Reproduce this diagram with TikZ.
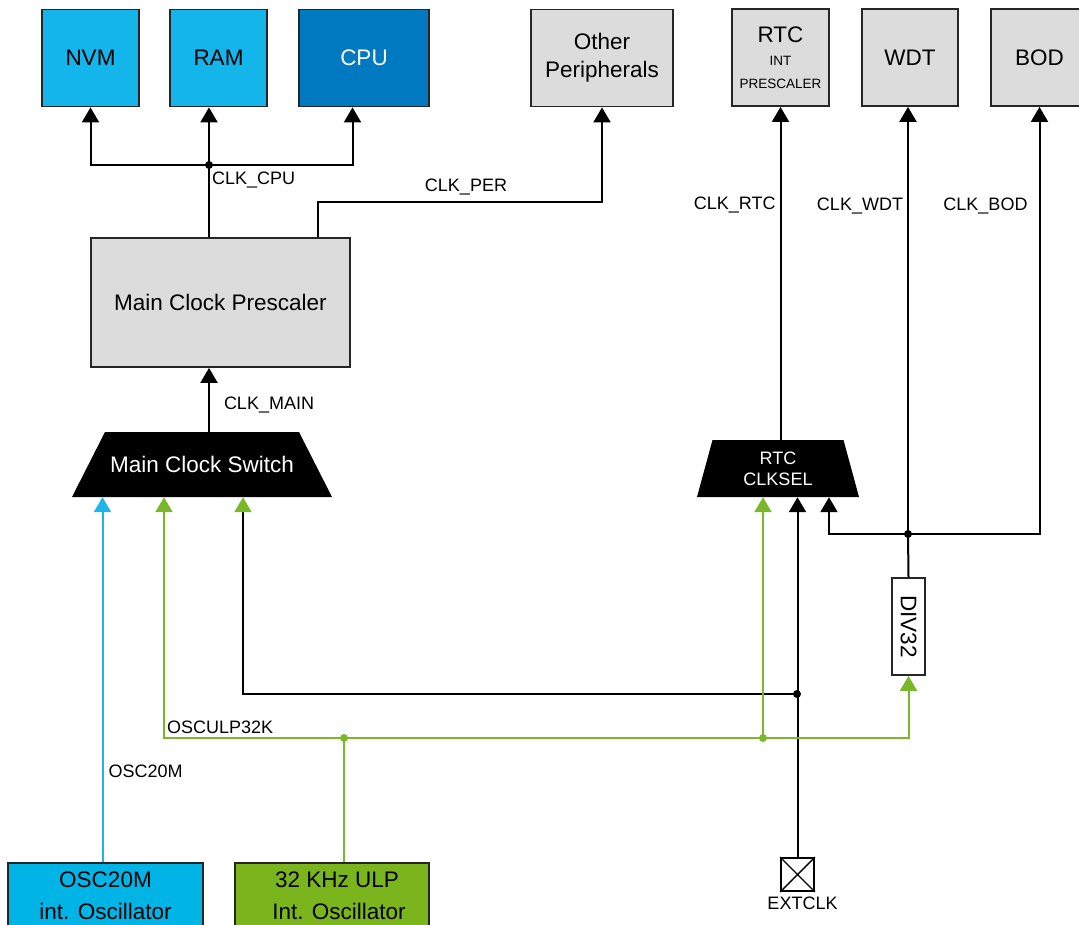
\documentclass[tikz,border=0pt]{standalone}
\usepackage{fontspec}
\setmainfont{Liberation Sans}
\usetikzlibrary{arrows.meta, positioning}
\definecolor{memblue}{HTML}{13B5EA}
\definecolor{cpublue}{HTML}{0079C1}
\definecolor{oscblue}{HTML}{00B4E6}
\definecolor{ulpgreen}{HTML}{7AB51D}
\definecolor{wiregreen}{HTML}{7AB82A}
\definecolor{wireblue}{HTML}{1CB4EA}
\definecolor{blockgray}{HTML}{DCDCDC}
\newcommand{\bigfont}{\fontsize{22.5}{28}\selectfont}
\newcommand{\lblfont}{\fontsize{18}{21}\selectfont}

\begin{document}
\begin{tikzpicture}[
        x=1pt, y=-1pt,
        >={Triangle[width=17pt,length=15pt]},
        wire/.style={line width=2pt},
        grn/.style={wire, draw=wiregreen},
        blu/.style={wire, draw=wireblue},
        gtip/.style={-{Triangle[width=17pt,length=15pt,color=wiregreen]}},
        blk/.style={draw=black!85, line width=1.8pt, minimum width=97pt, minimum height=97pt, inner sep=0pt, align=center, font=\bigfont, fill=blockgray},
        mem/.style={blk, fill=memblue},
        osc/.style={blk, minimum width=195pt, minimum height=66pt, font=\fontsize{22.5}{32}\selectfont},
        mux/.style={rectangle, inner sep=0pt, align=center, text=white,
            path picture={\fill[black] ([xshift=#1]path picture bounding box.north west) -- ([xshift=-#1]path picture bounding box.north east)
                -- (path picture bounding box.south east) -- (path picture bounding box.south west) -- cycle;}},
        lbl/.style={font=\lblfont, inner sep=1pt}
    ]
        \useasboundingbox (0,0) rectangle (1079,924);
        % --- Verbraucher oben ---
        \node[mem] (nvm) at (90.5,58) {NVM};
        \node[mem] (ram) at (218.5,58) {RAM};
        \node[mem, fill=cpublue, text=white, minimum width=130pt] (cpu) at (364,58) {CPU};
        \node[blk, minimum width=142pt] (peri) at (602,58) {Other\\Peripherals};
        \node[blk, font=\fontsize{13.5}{23}\selectfont] (rtc) at (780.5,57.5) {{\fontsize{22.5}{23}\selectfont RTC}\\INT\\PRESCALER};
        \node[blk, minimum width=96pt] (wdt) at (910,57.5) {WDT};
        \node[blk] (bod) at (1039.5,57.5) {BOD};
        % --- Vorteiler und Umschalter ---
        \node[blk, minimum width=259pt, minimum height=129pt] (pre) at (220.5,302.5) {Main Clock Prescaler};
        \node[mux=33pt, minimum width=260pt, minimum height=65pt, font=\bigfont] (sw) at (202,464.5) {Main Clock Switch};
        \node[mux=15.5pt, minimum width=162pt, minimum height=57pt, font=\lblfont] (rsel) at (778,468.5) {RTC\\CLKSEL};
        \node[blk, fill=white, minimum width=33pt, minimum height=97pt] (div) at (908.5,626.5) {\rotatebox{-90}{DIV32}};
        % --- Quellen unten ---
        \node[osc, fill=oscblue] (osc20) at (105.5,896) {OSC20M\\int. Oscillator};
        \node[osc, fill=ulpgreen, minimum width=194pt] (ulp) at (332,896) {\hspace{10pt}32 KHz ULP\\\hspace{14pt}Int. Oscillator};
        \node[draw, line width=1.8pt, minimum size=33pt, inner sep=0pt] (pad) at (797.5,874.5) {};
        \draw[line width=1.4pt] (pad.north west) -- (pad.south east) (pad.north east) -- (pad.south west);
        \node[lbl, below=4pt of pad, xshift=5pt] (extlbl) {EXTCLK};

        % --- Knoten ---
        \coordinate (jcpu) at (209,165);
        \coordinate (kper) at (318,202);
        \coordinate (jdiv) at (908,534);
        \coordinate (jext) at (797,694);
        \coordinate (gj) at (344,738);
        \coordinate (grtc) at (763,738);

        % --- Leitungen ---
        \draw[wire,->] (pre.north -| jcpu) -- (jcpu |- ram.south);
        \draw[wire,->] (jcpu) -| (nvm.south);
        \draw[wire,->] (jcpu) -| ([xshift=-11.5pt]cpu.south);
        \node[lbl, anchor=west] (lcpu) at (211,180) {CLK\_CPU};
        \draw[wire,->] (pre.north -| kper) -- (kper) -| (peri.south);
        \node[lbl] (lper) at (466,187) {CLK\_PER};
        \draw[wire,->] (sw.north -| jcpu) -- node[lbl, right=13pt, pos=0.42] {CLK\_MAIN} (jcpu |- pre.south);
        \draw[wire,->] (rsel.north -| rtc) -- node[lbl, left=3pt, pos=0.706] {CLK\_RTC} (rtc.south);
        \draw[wire] (div.north) -- (jdiv);
        \draw[wire,->] (jdiv) -- node[lbl, left=3pt, pos=0.768] {CLK\_WDT} (jdiv |- wdt.south);
        \draw[wire,->] (jdiv) -| node[lbl, left=10pt, pos=0.884] {CLK\_BOD} (bod.south);
        \draw[wire,->] (jdiv) -| ([xshift=51pt]rsel.south);
        % externer Takt
        \draw[wire,->] (pad.north) -- (pad.north |- rsel.south);
        \draw[wire,gtip] (jext) -| ([xshift=41pt]sw.south);
        % interne Oszillatoren
        \draw[blu,-{Triangle[width=17pt,length=15pt,color=wireblue]}] ([xshift=-3pt]osc20.north) -- node[lbl, right=4pt, pos=0.25] {OSC20M} ([xshift=-3pt]osc20.north |- sw.south);
        \draw[grn] (ulp.north -| gj) -- (gj);
        \draw[grn,gtip] (gj) -| ([xshift=-38pt]sw.south);
        \draw[grn,gtip] (gj) -| (div.south);
        \draw[grn,gtip] (grtc) -- (grtc |- rsel.south);
        \node[lbl, anchor=west] (lulp) at (166,727) {OSCULP32K};
        % Verbindungspunkte
        \fill (jcpu) circle (4pt) (jdiv) circle (4pt) (jext) circle (4pt);
        \fill[wiregreen] (gj) circle (4pt) (grtc) circle (4pt);
    \end{tikzpicture}
\end{document}
